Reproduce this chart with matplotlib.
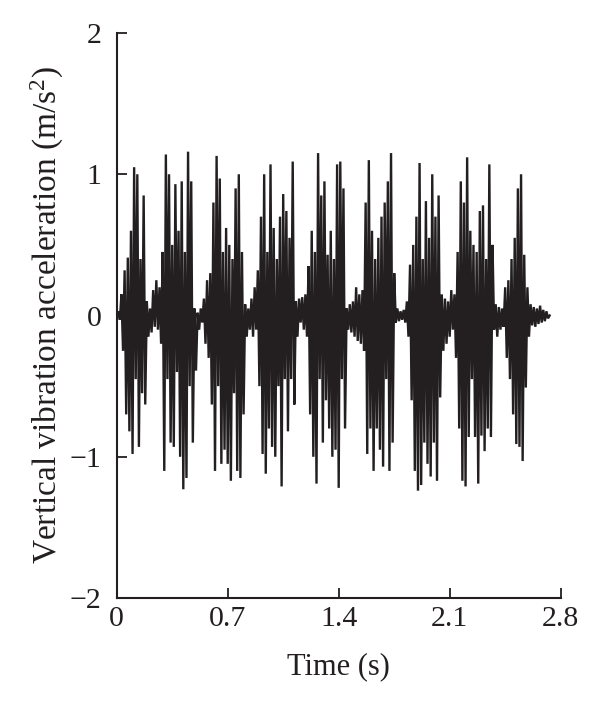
import numpy as np
import matplotlib
matplotlib.use("Agg")
import matplotlib.pyplot as plt

plt.rcParams["font.family"] = ["Liberation Serif", "DejaVu Serif"]
plt.rcParams["mathtext.fontset"] = "custom"
plt.rcParams["mathtext.rm"] = "Liberation Serif"
plt.rcParams["mathtext.default"] = "regular"

# sample step of the record (s)
dt = 0.01

# vertical acceleration (m/s^2), one value per 0.01 s
accel = [
    0.00, 0.03, -0.03, 0.15, -0.25, 0.32, -0.70, 0.41, -0.82, 0.60,
    -0.98, 1.05, -0.45, 1.00, -0.93, 0.40, -0.55, 0.85, -0.63, 0.10,
    -0.15, 0.05, -0.12, 0.18, -0.08, 0.25, -0.10, 0.20, -0.20, 0.45,
    -1.10, 1.14, -0.45, 1.00, -0.90, 0.50, -0.93, 0.93, -0.40, 0.60,
    -1.00, 0.95, -1.23, 0.45, -1.15, 1.16, -0.50, 0.95, -0.90, 0.05,
    -0.39, 0.02, -0.10, 0.05, -0.05, 0.12, -0.20, 0.25, -0.30, 0.30,
    -0.63, 0.80, -1.10, 1.13, -0.50, 0.97, -1.05, 0.45, -0.95, 0.62,
    -1.05, 0.50, -1.17, 0.40, -0.55, 0.90, -1.10, 1.00, -1.15, 0.45,
    -0.70, 0.08, -0.15, 0.05, -0.10, 0.12, -0.15, 0.20, -0.10, 0.32,
    -0.50, 0.70, -0.98, 1.00, -1.12, 0.45, -0.80, 1.07, -0.93, 0.62,
    -1.00, 0.40, -0.50, 0.70, -1.21, 0.86, -0.45, 0.74, -0.82, 0.55,
    -0.45, 1.09, -0.63, 0.10, -0.15, 0.12, -0.05, 0.13, -0.10, 0.15,
    -0.15, 0.35, -0.70, 0.60, -1.00, 0.45, -1.19, 1.15, -0.45, 0.85,
    -0.90, 0.95, -0.60, 0.43, -0.80, 0.60, -1.00, 0.40, -0.95, 1.07,
    -1.22, 1.09, -0.45, 0.90, -0.80, 0.05, -0.10, 0.08, -0.12, 0.10,
    -0.15, 0.20, -0.18, 0.15, -0.20, 0.18, -0.25, 0.80, -0.98, 1.10,
    -0.80, 0.60, -1.10, 0.40, -0.80, 0.55, -0.95, 0.70, -1.07, 0.80,
    -0.45, 0.95, -1.10, 1.15, -0.90, 0.30, -0.05, 0.05, -0.04, 0.03,
    -0.03, 0.04, -0.05, 0.10, -0.15, 0.36, -0.60, 0.50, -1.10, 0.70,
    -1.24, 1.08, -1.20, 0.40, -0.90, 0.81, -1.05, 0.55, -1.14, 1.00,
    -0.90, 0.70, -1.17, 0.85, -0.58, 0.15, -0.25, 0.12, -0.20, 0.10,
    -0.15, 0.18, -0.10, 0.15, -0.30, 0.45, -0.80, 0.95, -1.17, 0.80,
    -1.21, 1.12, -0.86, 0.60, -0.45, 0.50, -0.86, 0.45, -1.19, 0.74,
    -0.85, 0.78, -0.96, 0.40, -0.80, 1.07, -0.86, 0.50, -0.10, 0.08,
    -0.15, 0.06, -0.10, 0.05, -0.08, 0.20, -0.30, 0.25, -0.45, 0.40,
    -0.70, 0.55, -0.91, 0.90, -0.93, 1.00, -1.03, 0.43, -0.51, 0.20,
    -0.15, 0.08, -0.07, 0.06, -0.08, 0.05, -0.06, 0.07, -0.05, 0.04,
    -0.04, 0.03, -0.02, 0.00,
]

x_ticks = [0, 0.7, 1.4, 2.1, 2.8]
x_tick_labels = ["0", "0.7", "1.4", "2.1", "2.8"]
y_ticks = [-2, -1, 0, 1, 2]

time = np.arange(len(accel)) * dt

fig = plt.figure(figsize=(6, 7.1), dpi=100)
ax = fig.add_axes([0.1945, 0.1577, 0.74, 0.7958])

ax.plot(time, accel, color="#231f20", linewidth=1.7, solid_joinstyle="miter")

ax.set_xlim(0, 2.8)
ax.set_ylim(-2, 2)
ax.set_xticks(x_ticks)
ax.set_xticklabels(x_tick_labels)
ax.set_yticks(y_ticks)

for side in ["top", "right"]:
    ax.spines[side].set_visible(False)
for side in ["left", "bottom"]:
    ax.spines[side].set_linewidth(1.5)
    ax.spines[side].set_color("#231f20")

ax.tick_params(direction="in", length=7.5, width=1.3, labelsize=21.5,
               colors="#231f20")
ax.tick_params(axis="x", pad=6)
ax.tick_params(axis="y", pad=11)

ax.set_xlabel("Time (s)", fontsize=22, color="#231f20", labelpad=14)
ax.set_ylabel("Vertical vibration acceleration (m/s$^{2}$)", fontsize=24,
              color="#231f20", labelpad=3)

fig.savefig("out.png", dpi=100)
